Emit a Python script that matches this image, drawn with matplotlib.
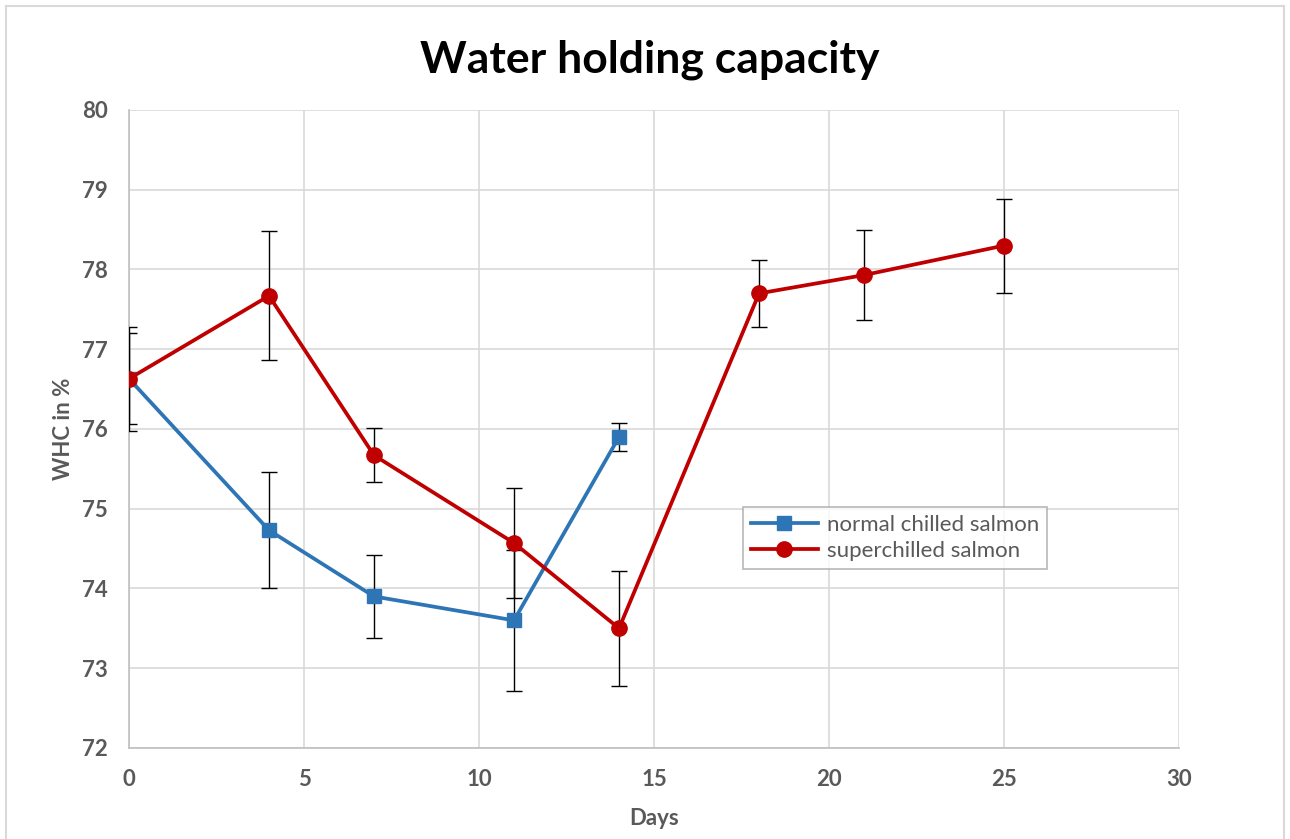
import matplotlib
matplotlib.use("Agg")
import matplotlib.pyplot as plt
from matplotlib.patches import Rectangle

plt.rcParams['font.family'] = ['Lato', 'DejaVu Sans']

days_normal = [0, 4, 7, 11, 14]
whc_normal = [76.63, 74.73, 73.90, 73.60, 75.90]
err_normal = [0.65, 0.73, 0.52, 0.88, 0.18]

days_super = [0, 4, 7, 11, 14, 18, 21, 25]
whc_super = [76.63, 77.67, 75.67, 74.57, 73.50, 77.70, 77.93, 78.30]
err_super = [0.57, 0.81, 0.34, 0.69, 0.72, 0.42, 0.56, 0.59]

x_ticks = [0, 5, 10, 15, 20, 25, 30]
y_ticks = [72, 73, 74, 75, 76, 77, 78, 79, 80]

fig = plt.figure(figsize=(12.9, 8.39), dpi=100)
ax = fig.add_axes([0.1, 0.1085, 0.814, 0.7604])

grid_c = '#d9d9d9'
text_c = '#595959'

eb1 = ax.errorbar(days_normal, whc_normal, yerr=err_normal, color='#2E75B6', lw=2.7,
                  marker='s', ms=10, mec='#2E75B6', mfc='#2E75B6',
                  ecolor='black', elinewidth=1, capsize=6, capthick=1,
                  label='normal chilled salmon', zorder=3)
eb2 = ax.errorbar(days_super, whc_super, yerr=err_super, color='#C00000', lw=2.7,
                  marker='o', ms=11, mec='#C00000', mfc='#C00000',
                  ecolor='black', elinewidth=1, capsize=6, capthick=1,
                  label='superchilled salmon', zorder=4)

ax.set_xlim(0, 30)
ax.set_ylim(72, 80)
ax.set_xticks(x_ticks)
ax.set_yticks(y_ticks)
ax.grid(True, color=grid_c, lw=1.2)
ax.set_axisbelow(True)
for s in ['top', 'right']:
    ax.spines[s].set_visible(False)
for s in ['left', 'bottom']:
    ax.spines[s].set_color('#bfbfbf')
    ax.spines[s].set_linewidth(1.2)
ax.tick_params(axis='y', length=0, pad=15, labelsize=16, labelcolor=text_c)
ax.tick_params(axis='x', length=0, pad=15, labelsize=16, labelcolor=text_c)
for lab in ax.get_xticklabels() + ax.get_yticklabels():
    lab.set_fontweight('bold')

ax.set_xlabel('Days', fontsize=16, fontweight='bold', color=text_c, labelpad=13)
ax.set_ylabel('WHC in %', fontsize=16, fontweight='bold', color=text_c, labelpad=6)
fig.text(0.504, 0.929, 'Water holding capacity', ha='center', va='center',
         fontsize=32, fontweight='bold', color='black')

leg = ax.legend(handles=[eb1[0], eb2[0]], labels=['normal chilled salmon', 'superchilled salmon'],
                loc='upper left', bbox_to_anchor=(0.585, 0.378), borderaxespad=0,
                fontsize=16, frameon=True, fancybox=False, edgecolor='#a6a6a6',
                handlelength=3, handletextpad=0.4, borderpad=0.35, labelspacing=0.3)
leg.get_frame().set_linewidth(1.2)
for t in leg.get_texts():
    t.set_color(text_c)

fig.patches.append(Rectangle((0.005, -0.01), 0.99, 1.003, transform=fig.transFigure,
                             fill=False, edgecolor='#d9d9d9', lw=1.5))

fig.savefig('out.png', dpi=100)
